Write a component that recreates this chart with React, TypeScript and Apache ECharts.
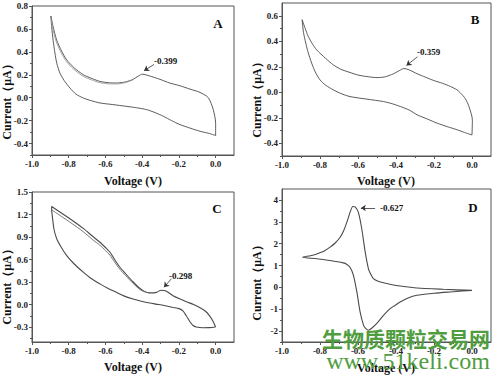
import React, { useEffect, useRef } from "react";
import * as echarts from "echarts";

// ---- tick values ----
const xTickLabels = [-1.0, -0.8, -0.6, -0.4, -0.2, 0.0];
const xMinorTicks = [-0.9, -0.7, -0.5, -0.3, -0.1];
const yTicksA = [-0.4, -0.2, 0.0, 0.2, 0.4, 0.6, 0.8];
const yMinorA = [-0.5, -0.3, -0.1, 0.1, 0.3, 0.5, 0.7];
const yTicksB = [-0.4, -0.2, 0.0, 0.2, 0.4, 0.6];
const yMinorB = [-0.5, -0.3, -0.1, 0.1, 0.3, 0.5];
const yTicksC = [-0.3, 0.0, 0.3, 0.6, 0.9, 1.2, 1.5];
const yMinorC = [-0.45, -0.15, 0.15, 0.45, 0.75, 1.05, 1.35];
const yTicksD = [-2, -1, 0, 1, 2, 3, 4];
const yMinorD = [-2.5, -1.5, -0.5, 0.5, 1.5, 2.5, 3.5];

// ---- panel A ----
const aLower = [
  [0.0, -0.33], [-0.04, -0.31], [-0.085, -0.293], [-0.14, -0.265], [-0.194, -0.235],
  [-0.24, -0.2], [-0.285, -0.162], [-0.33, -0.13], [-0.376, -0.104], [-0.43, -0.088],
  [-0.484, -0.076], [-0.56, -0.06], [-0.63, -0.046], [-0.68, -0.025], [-0.72, -0.003],
  [-0.76, 0.03], [-0.793, 0.084], [-0.825, 0.15], [-0.848, 0.215], [-0.865, 0.3],
  [-0.875, 0.388], [-0.885, 0.5], [-0.893, 0.62], [-0.897, 0.713],
];
const aUpper = [
  [-0.897, 0.713], [-0.885, 0.62], [-0.866, 0.504], [-0.84, 0.41], [-0.811, 0.33],
  [-0.77, 0.26], [-0.72, 0.2], [-0.67, 0.165], [-0.63, 0.142], [-0.58, 0.13],
  [-0.539, 0.128], [-0.49, 0.138], [-0.449, 0.16], [-0.42, 0.19], [-0.399, 0.205],
  [-0.36, 0.19], [-0.303, 0.16], [-0.25, 0.128], [-0.194, 0.104], [-0.14, 0.075],
  [-0.085, 0.046], [-0.04, 0.0], [-0.013, -0.104], [0.0, -0.22], [0.0, -0.33],
];
const aUpper2 = [
  [-0.897, 0.7], [-0.886, 0.6], [-0.868, 0.49], [-0.842, 0.395], [-0.813, 0.316],
  [-0.772, 0.247], [-0.722, 0.188], [-0.672, 0.153], [-0.632, 0.132], [-0.582, 0.121],
  [-0.54, 0.12], [-0.49, 0.132], [-0.449, 0.156],
];

// ---- panel B ----
const bLower = [
  [0.0, -0.335], [-0.04, -0.315], [-0.077, -0.295], [-0.13, -0.27], [-0.183, -0.243],
  [-0.235, -0.21], [-0.289, -0.177], [-0.33, -0.14], [-0.377, -0.112], [-0.42, -0.09],
  [-0.466, -0.073], [-0.553, -0.054], [-0.642, -0.034], [-0.69, -0.01], [-0.73, 0.019],
  [-0.77, 0.055], [-0.8, 0.097], [-0.825, 0.16], [-0.844, 0.229], [-0.862, 0.31],
  [-0.875, 0.386], [-0.887, 0.47], [-0.894, 0.569],
];
const bUpper = [
  [-0.894, 0.569], [-0.878, 0.5], [-0.862, 0.438], [-0.84, 0.38], [-0.818, 0.333],
  [-0.77, 0.265], [-0.73, 0.215], [-0.69, 0.18], [-0.642, 0.155], [-0.6, 0.135],
  [-0.553, 0.123], [-0.5, 0.115], [-0.46, 0.12], [-0.413, 0.145], [-0.38, 0.172],
  [-0.359, 0.186], [-0.33, 0.175], [-0.289, 0.145], [-0.245, 0.118], [-0.201, 0.092],
  [-0.155, 0.07], [-0.113, 0.045], [-0.08, 0.02], [-0.06, -0.007], [-0.035, -0.05],
  [-0.016, -0.112], [0.002, -0.217], [0.0, -0.335],
];

// ---- panel C ----
const cLower = [
  [0.0, -0.3], [-0.033, -0.308], [-0.07, -0.31], [-0.105, -0.3], [-0.123, -0.28],
  [-0.14, -0.23], [-0.16, -0.15], [-0.178, -0.084], [-0.2, -0.055], [-0.23, -0.04],
  [-0.268, -0.02], [-0.31, 0.0], [-0.359, 0.019], [-0.4, 0.04], [-0.449, 0.073],
  [-0.5, 0.115], [-0.54, 0.162], [-0.59, 0.22], [-0.63, 0.275], [-0.68, 0.35],
  [-0.721, 0.431], [-0.77, 0.54], [-0.812, 0.656], [-0.84, 0.76], [-0.866, 0.88],
  [-0.88, 1.0], [-0.888, 1.15], [-0.893, 1.262],
];
const cUpper = [
  [-0.893, 1.306], [-0.84, 1.22], [-0.78, 1.12], [-0.721, 1.015], [-0.67, 0.91],
  [-0.63, 0.83], [-0.6, 0.76], [-0.576, 0.7], [-0.55, 0.6], [-0.522, 0.5],
  [-0.49, 0.41], [-0.449, 0.3], [-0.42, 0.23], [-0.395, 0.185], [-0.36, 0.155],
  [-0.322, 0.162], [-0.298, 0.19], [-0.27, 0.18], [-0.232, 0.118], [-0.2, 0.08],
  [-0.159, 0.037], [-0.12, 0.0], [-0.087, -0.04], [-0.055, -0.09], [-0.033, -0.151],
  [-0.015, -0.22], [0.0, -0.3],
];
const cUpper2 = [
  [-0.893, 1.262], [-0.84, 1.175], [-0.78, 1.075], [-0.721, 0.97], [-0.67, 0.865],
  [-0.63, 0.79], [-0.6, 0.72], [-0.576, 0.66], [-0.55, 0.565], [-0.522, 0.47],
  [-0.49, 0.385], [-0.449, 0.28], [-0.42, 0.215], [-0.395, 0.175], [-0.36, 0.152],
];

// ---- panel D ----
const dLower = [
  [0.0, -0.14], [-0.05, -0.17], [-0.114, -0.21], [-0.2, -0.27], [-0.29, -0.36],
  [-0.34, -0.5], [-0.378, -0.67], [-0.41, -0.85], [-0.431, -0.97], [-0.466, -1.28],
  [-0.501, -1.65], [-0.525, -1.85], [-0.545, -1.96], [-0.56, -1.88], [-0.571, -1.73],
  [-0.589, -1.12], [-0.606, -0.21], [-0.624, 0.55], [-0.642, 0.92], [-0.66, 1.06],
  [-0.677, 1.12], [-0.747, 1.23], [-0.817, 1.31], [-0.891, 1.38],
];
const dUpper = [
  [-0.891, 1.38], [-0.85, 1.45], [-0.817, 1.53], [-0.78, 1.65], [-0.747, 1.84],
  [-0.72, 2.03], [-0.694, 2.29], [-0.675, 2.6], [-0.659, 2.97], [-0.642, 3.43],
  [-0.627, 3.7], [-0.615, 3.68], [-0.598, 3.43], [-0.58, 2.67], [-0.562, 1.61],
  [-0.545, 0.85], [-0.53, 0.55], [-0.519, 0.4], [-0.5, 0.3], [-0.466, 0.21],
  [-0.42, 0.12], [-0.378, 0.06], [-0.29, -0.03], [-0.15, -0.09], [0.0, -0.14],
];

// ---- annotations ----
const peakLabels = ["-0.399", "-0.359", "-0.298", "-0.627"];
const arrowA = [[-0.336, 0.29], [-0.39, 0.235]];
const arrowB = [[-0.287, 0.278], [-0.345, 0.21]];
const arrowC = [[-0.241, 0.343], [-0.281, 0.23]];
const arrowD = [[-0.51, 3.63], [-0.585, 3.63]];

const SERIF = "'Liberation Serif', 'Times New Roman', serif";
const AXIS_COLOR = "#555555";
const LINE_COLOR = "#4a4a4a";

const panels = [
  { grid: { left: 32, top: 6, width: 202, height: 149 }, yMin: -0.5, yMax: 0.8, ticks: yTicksA, minor: yMinorA, dec: 1 },
  { grid: { left: 282, top: 3, width: 209, height: 153 }, yMin: -0.5, yMax: 0.7, ticks: yTicksB, minor: yMinorB, dec: 1 },
  { grid: { left: 32, top: 192, width: 202, height: 150 }, yMin: -0.5, yMax: 1.5, ticks: yTicksC, minor: yMinorC, dec: 1 },
  { grid: { left: 282, top: 189, width: 209, height: 153 }, yMin: -2.5, yMax: 4.5, ticks: yTicksD, minor: yMinorD, dec: 0 },
];

function buildOption() {
  const grid: any[] = [];
  const xAxis: any[] = [];
  const yAxis: any[] = [];
  panels.forEach((p, i) => {
    grid.push({ ...p.grid, show: true, borderColor: AXIS_COLOR, borderWidth: 1, backgroundColor: "transparent" });
    const labelStyle = { fontSize: 9, fontWeight: "bold", fontFamily: SERIF, color: "#222" };
    xAxis.push({
      type: "value", gridIndex: i, min: -1.0, max: 0.1, position: "bottom",
      axisLine: { show: true, onZero: false, lineStyle: { color: AXIS_COLOR, width: 1 } },
      axisTick: { show: true, length: 3, customValues: xTickLabels, lineStyle: { color: AXIS_COLOR } },
      axisLabel: { ...labelStyle, margin: 4, customValues: xTickLabels, formatter: (v: number) => v.toFixed(1) },
      splitLine: { show: false },
    });
    yAxis.push({
      type: "value", gridIndex: i, min: p.yMin, max: p.yMax, position: "left",
      axisLine: { show: true, onZero: false, lineStyle: { color: AXIS_COLOR, width: 1 } },
      axisTick: { show: true, length: 3, customValues: p.ticks, lineStyle: { color: AXIS_COLOR } },
      axisLabel: { ...labelStyle, margin: 4, customValues: p.ticks, formatter: (v: number) => v.toFixed(p.dec) },
      splitLine: { show: false },
    });
  });
  panels.forEach((p, i) => {
    xAxis.push({
      type: "value", gridIndex: i, min: -1.0, max: 0.1, position: "bottom",
      axisLine: { show: false, onZero: false },
      axisTick: { show: true, length: 2, customValues: xMinorTicks, lineStyle: { color: AXIS_COLOR } },
      axisLabel: { show: false }, splitLine: { show: false },
    });
    yAxis.push({
      type: "value", gridIndex: i, min: p.yMin, max: p.yMax, position: "left",
      axisLine: { show: false, onZero: false },
      axisTick: { show: true, length: 2, customValues: p.minor, lineStyle: { color: AXIS_COLOR } },
      axisLabel: { show: false }, splitLine: { show: false },
    });
  });

  const mkArrow = (arr: number[][]) => ({
    silent: true,
    symbol: ["none", "arrow"],
    symbolSize: 5,
    label: { show: false },
    lineStyle: { color: "#333", width: 0.8, type: "solid" },
    data: [[{ coord: arr[0] }, { coord: arr[1] }]],
  });

  const line = (i: number, data: number[][], color: string, width: number, markLine?: any) => ({
    type: "line", xAxisIndex: i, yAxisIndex: i, data,
    showSymbol: false, symbol: "none", smooth: 0.25,
    lineStyle: { color, width },
    markLine,
    z: 3,
  });

  const series = [
    line(0, [...aLower, ...aUpper], LINE_COLOR, 0.9, mkArrow(arrowA)),
    line(0, aUpper2, "#9a9a9a", 0.9),
    line(1, [...bLower, ...bUpper], LINE_COLOR, 0.9, mkArrow(arrowB)),
    line(2, [...cLower, ...cUpper], LINE_COLOR, 1.1, mkArrow(arrowC)),
    line(2, cUpper2, "#666", 0.9),
    line(3, [...dLower, ...dUpper], LINE_COLOR, 1.1, mkArrow(arrowD)),
  ];

  const boldText = (text: string, x: number, y: number, size: number, extra: any = {}) => ({
    type: "text", x, y,
    style: { text, fontSize: size, fontWeight: "bold", fontFamily: SERIF, fill: "#111", align: "center", verticalAlign: "middle" },
    ...extra,
  });
  const peakText = (text: string, x: number, y: number) => ({
    type: "text", x, y,
    style: { text, fontSize: 9, fontWeight: "bold", fontFamily: SERIF, fill: "#111", align: "left", verticalAlign: "middle" },
  });

  const graphic: any[] = [
    boldText("Voltage (V)", 133, 181, 12),
    boldText("Voltage (V)", 386, 181, 12),
    boldText("Voltage (V)", 133, 367, 12),
    boldText("Voltage (V)", 386, 368, 12),
    boldText("Current（μA）", 7, 99, 12, { rotation: Math.PI / 2 }),
    boldText("Current（μA）", 257, 97, 12, { rotation: Math.PI / 2 }),
    boldText("Current（μA）", 7, 284, 12, { rotation: Math.PI / 2 }),
    boldText("Current（μA）", 257, 280, 12, { rotation: Math.PI / 2 }),
    boldText("A", 218, 23, 13),
    boldText("B", 475, 19, 13),
    boldText("C", 217, 208, 13),
    boldText("D", 473, 207, 13),
    peakText(peakLabels[0], 154, 61),
    peakText(peakLabels[1], 417, 52),
    peakText(peakLabels[2], 169, 276),
    peakText(peakLabels[3], 380, 208),
    { type: "text", x: 406, y: 338, z: 100, style: { text: "生物质颗粒交易网", fontSize: 21, fontWeight: "bold", fontFamily: "'Noto Sans CJK SC', sans-serif", fill: "#4f9d3f", align: "center", verticalAlign: "middle" } },
    { type: "text", x: 408, y: 361, z: 100, style: { text: "www.51keli.com", fontSize: 24, fontFamily: SERIF, fill: "#4f9d3f", align: "center", verticalAlign: "middle" } },
  ];

  return { animation: false, backgroundColor: "#ffffff", grid, xAxis, yAxis, series, graphic };
}

export default function App() {
  const ref = useRef<HTMLDivElement>(null);
  useEffect(() => {
    if (!ref.current) return;
    const chart = echarts.init(ref.current, undefined, { renderer: "svg" });
    chart.setOption(buildOption() as any);
    return () => chart.dispose();
  }, []);
  return <div ref={ref} style={{ width: 500, height: 378, position: "absolute", left: 0, top: 0 }} />;
}
